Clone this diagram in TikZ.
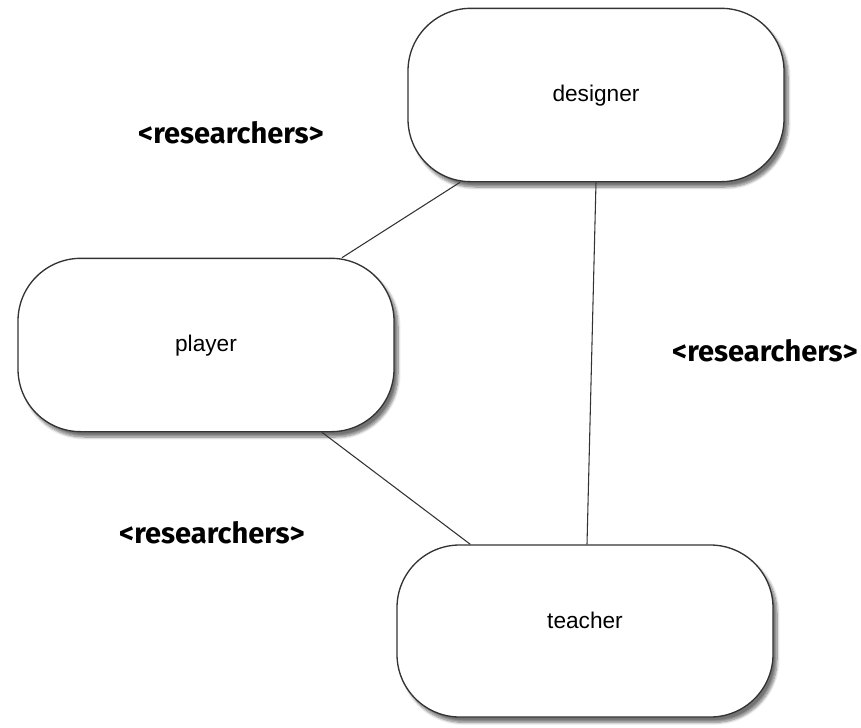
\documentclass[tikz,border=0pt]{standalone}
\usepackage{fontspec}
\setmainfont{Liberation Sans}
\newfontfamily\rolefont{Fira Sans}
\usetikzlibrary{shadows.blur}

\tikzset{
    role/.style={draw=black!80, line width=1pt, fill=white, rounded corners=47pt,
        minimum width=282pt, minimum height=130pt, font=\fontsize{17}{20}\selectfont,
        blur shadow={shadow xshift=3pt, shadow yshift=-4pt, shadow blur steps=8, shadow opacity=55}},
    link/.style={draw=black!80, line width=0.8pt},
    tag/.style={font=\rolefont\bfseries\fontsize{21.8}{25}\selectfont}
}

\begin{document}
\begin{tikzpicture}[x=0.75pt, y=-0.75pt]
    % Frame
    \useasboundingbox (0,0) rectangle (861,728);

    % Roles
    \node[role] (designer) at (596,95) {\raisebox{-5pt}[0pt][0pt]{designer}};
    \node[role] (player) at (206,345) {\raisebox{-5pt}[0pt][0pt]{player}};
    \node[role, minimum height=129pt] (teacher) at (585,631) {\raisebox{2pt}[0pt][0pt]{teacher}};

    % Links
    \draw[link] ([xshift=-102pt]designer.south) -- ([xshift=102pt]player.north);
    \draw[link] (designer.south) -- ([xshift=1.5pt]teacher.north);
    \draw[link] ([xshift=87pt]player.south) -- ([xshift=-86pt]teacher.north);

    % Labels
    \node[tag] (tagdp) at (231,133) {<researchers>};
    \node[tag] (tagdt) at (765,351) {<researchers>};
    \node[tag] (tagpt) at (212,533) {<researchers>};
\end{tikzpicture}
\end{document}
